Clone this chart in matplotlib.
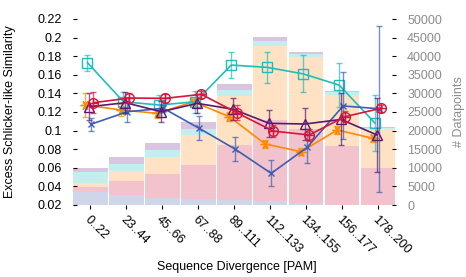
import numpy as np
import matplotlib
matplotlib.use("Agg")
import matplotlib.pyplot as plt

plt.rcParams['font.family'] = ['Liberation Sans', 'DejaVu Sans']

categories = ['0..22', '23..44', '45..66', '67..88', '89..111',
              '112..133', '134..155', '156..177', '178..200']

# stacked datapoint counts (right axis), bottom to top
stack_blue = [3575, 2690, 1880, 1610, 1430, 1075, 620, 100, 50]
stack_pink = [1260, 3850, 6540, 9230, 14700, 21770, 19800, 15680, 10030]
stack_peach = [1000, 2690, 4480, 7980, 13170, 19970, 19440, 13890, 10480]
stack_cyan = [3040, 1880, 1970, 1610, 1610, 1160, 620, 620, 270]
stack_purple = [1000, 1790, 1790, 1970, 1610, 1075, 720, 450, 270]

# similarity series (left axis)
orange_y = [0.1275, 0.1221, 0.1186, 0.131, 0.115, 0.0856, 0.0773, 0.1006, 0.0917]
orange_err = [0.013, 0.006, 0.005, 0.004, 0.005, 0.004, 0.004, 0.004, 0.004]
cyan_y = [0.173, 0.131, 0.1275, 0.131, 0.1705, 0.168, 0.161, 0.149, 0.108]
cyan_err = [0.0085, 0.011, 0.011, 0.012, 0.014, 0.017, 0.02, 0.024, 0.03]
purple_y = [0.1257, 0.130, 0.1203, 0.1293, 0.1229, 0.1078, 0.1071, 0.112, 0.0953]
purple_err = [0.0145, 0.011, 0.011, 0.010, 0.0117, 0.0143, 0.017, 0.028, 0.040]
blue_y = [0.107, 0.1203, 0.124, 0.1024, 0.080, 0.054, 0.082, 0.1265, 0.1235]
blue_err = [0.007, 0.011, 0.004, 0.013, 0.013, 0.014, 0.017, 0.036, 0.089]
red_y = [0.130, 0.135, 0.1347, 0.139, 0.119, 0.0995, 0.0953, 0.115, 0.124]
red_err = [0.011, 0.005, 0.005, 0.004, 0.008, 0.006, 0.006, 0.006, 0.004]

x = np.arange(len(categories))
fs = 9

fig = plt.figure(figsize=(4.66, 2.77), dpi=100)
ax = fig.add_axes([72.5/466, 1-205/277, 323.5/466, 186/277])
axl = ax.twinx()  # lines go on this one, drawn above the bars

# bars on the right-hand axis
bottom = np.zeros(len(x))
for vals, col in [(stack_blue, '#cfd6ea'), (stack_pink, '#f3c3cd'),
                  (stack_peach, '#fee2c3'), (stack_cyan, '#c3eeee'),
                  (stack_purple, '#d9c5df')]:
    ax.bar(x, vals, width=0.96, bottom=bottom, color=col, linewidth=0)
    bottom += np.array(vals)
ax.set_ylim(0, 50000)
ax.set_xlim(-0.5, 8.5)
ax.yaxis.set_ticks_position('right')
ax.set_yticks(range(0, 50001, 5000))
ax.tick_params(axis='y', direction='in', length=3, width=0.8, pad=8,
               labelsize=fs, labelcolor='#8c8c8c',
               left=False, labelleft=False, right=True, labelright=True)
ax.set_xticks(x)
ax.set_xticklabels(categories, rotation=-45, ha='left', va='top',
                   rotation_mode='anchor', fontsize=fs)
ax.tick_params(axis='x', direction='out', length=3, width=0.8, pad=3)
for s in ax.spines.values():
    s.set_visible(False)

# lines on the left axis
axl.set_ylim(0.02, 0.22)
axl.set_yticks([0.02, 0.04, 0.06, 0.08, 0.1, 0.12, 0.14, 0.16, 0.18, 0.2, 0.22])
axl.set_yticklabels(['0.02', '0.04', '0.06', '0.08', '0.1', '0.12', '0.14',
                     '0.16', '0.18', '0.2', '0.22'])
axl.tick_params(axis='y', direction='in', length=3, width=0.8, pad=8, labelsize=fs,
                left=True, labelleft=True, right=False, labelright=False)
for s in axl.spines.values():
    s.set_visible(False)

series = [
    (orange_y, orange_err, '#ff8a00', (6, 2, 90), -5),
    (cyan_y, cyan_err, '#1fbdbd', 's', -3),
    (blue_y, blue_err, '#3c5eb3', 'x', 1),
    (purple_y, purple_err, '#5a1870', '^', -1),
    (red_y, red_err, '#d8143a', 'o', 3),
]
for yv, ev, col, mk, off in series:
    xs = x + off / 36.0
    axl.errorbar(xs, yv, yerr=ev, fmt='none', ecolor=col, elinewidth=1.0,
                 capsize=2.5, capthick=1.0, alpha=0.7, clip_on=False)
    ms = 4 if mk == 'x' else 7
    axl.plot(xs, yv, color=col, lw=1.2, marker=mk, ms=ms, mfc='none',
             mec=col, mew=1.0, clip_on=False)
    if mk == 'o':
        axl.plot(xs, yv, ls='none', marker='+', ms=7, mec=col, mew=1.0)

axl.set_ylabel('Excess Schlicker-like Similarity', fontsize=fs)
axl.yaxis.set_label_position('left')
axl.yaxis.set_label_coords(-0.175, 0.5)
ax.set_xlabel('Sequence Divergence [PAM]', fontsize=fs)
ax.xaxis.set_label_coords(0.508, -0.3)
fig.text(459/466, 1-112/277, '# Datapoints', rotation=90, ha='center',
         va='center', fontsize=fs, color='#8c8c8c')

fig.savefig('out.png', dpi=100)
